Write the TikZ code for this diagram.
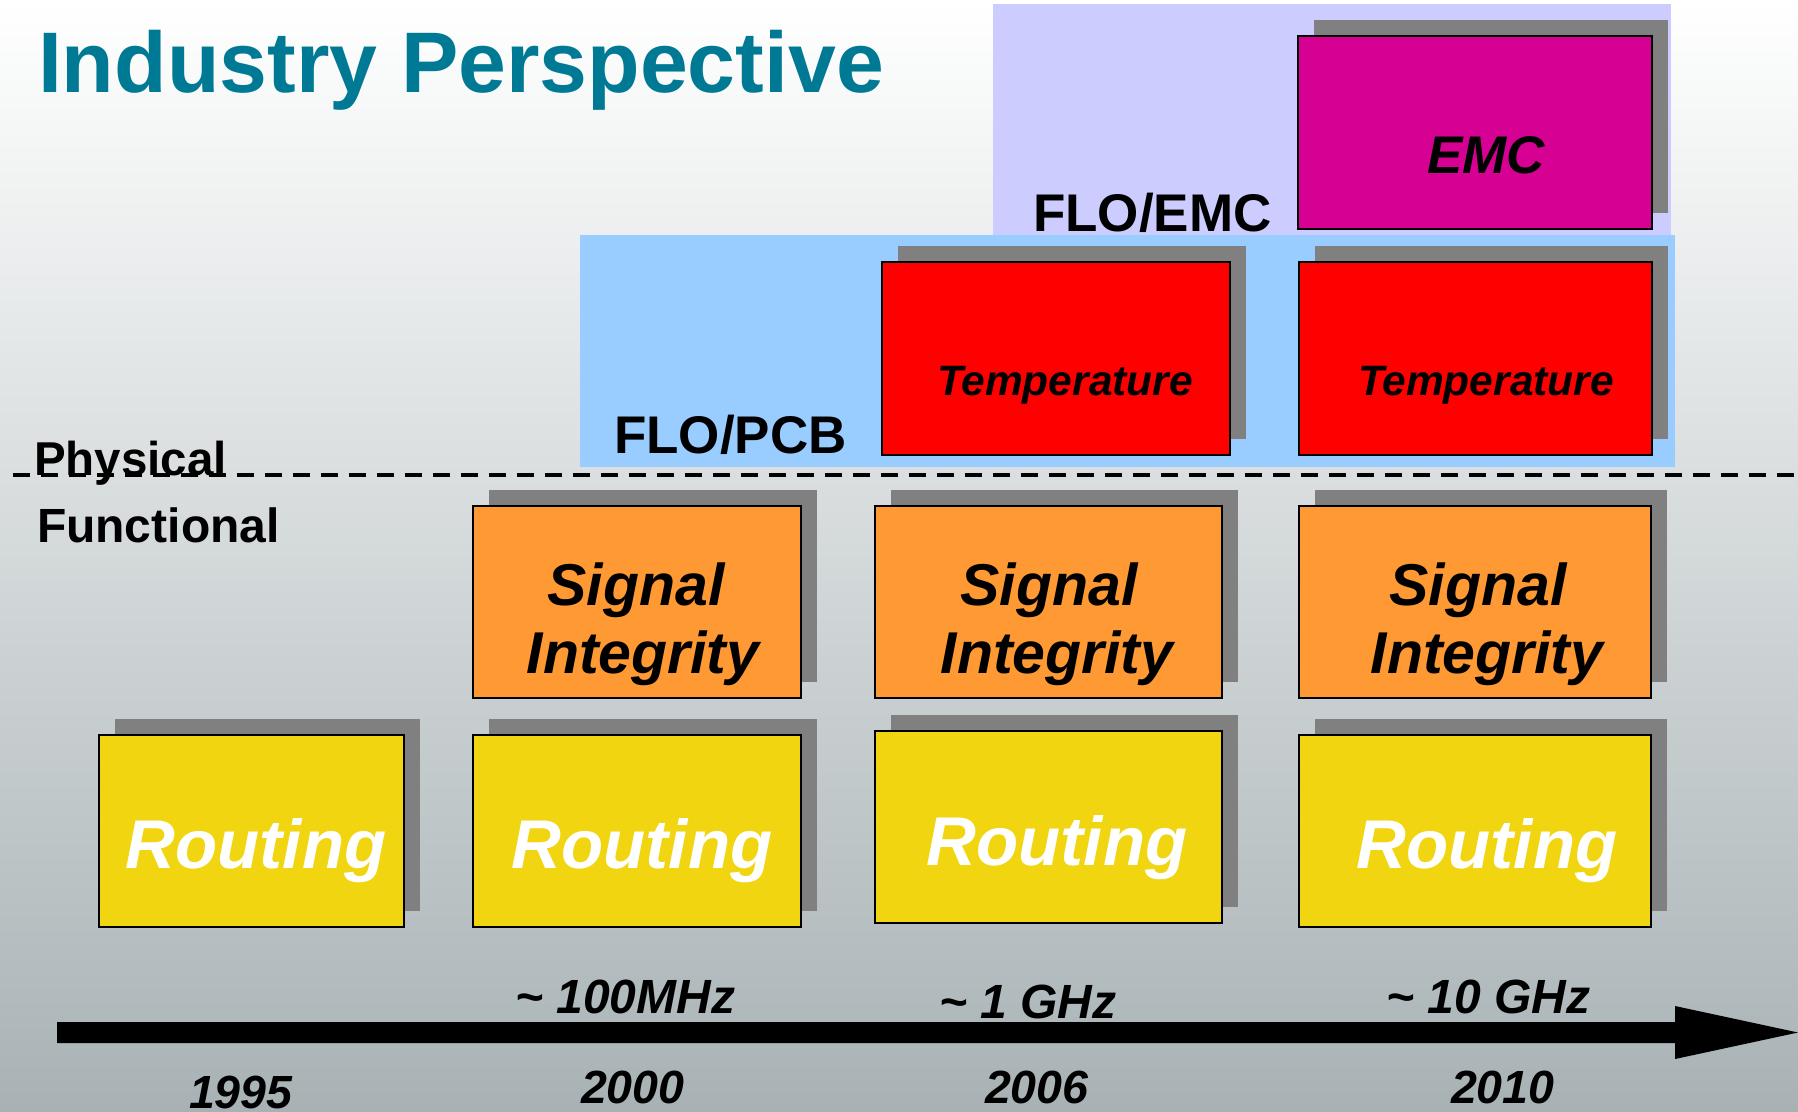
\documentclass[tikz,border=0pt]{standalone}
\usepackage{fontspec}
\setmainfont{Liberation Sans}
\usetikzlibrary{shadows}
\definecolor{tealtitle}{RGB}{0,122,148}
\definecolor{ryellow}{RGB}{240,213,16}
\definecolor{siorange}{RGB}{255,153,51}
\definecolor{tred}{RGB}{255,0,0}
\definecolor{emcmag}{RGB}{214,0,147}
\definecolor{lav}{RGB}{204,204,255}
\definecolor{lblue}{RGB}{153,204,255}
\definecolor{shgray}{RGB}{128,128,128}
\definecolor{bgbot}{RGB}{168,178,181}
\newcommand\myfs[1]{\fontsize{#1}{#1}\selectfont}
\begin{document}
\begin{tikzpicture}[x=1pt,y=-1pt,
  box/.style={draw=black,line width=2.5pt,inner sep=0pt,outer sep=0pt,
    general shadow={shadow xshift=16pt,shadow yshift=16pt,fill=shgray,draw=none}},
  rbox/.style={box,fill=ryellow,minimum height=192pt},
  sbox/.style={box,fill=siorange,minimum height=192pt},
  tbox/.style={box,fill=tred,minimum height=193pt},
  ebox/.style={box,fill=emcmag,minimum height=193pt},
  txt/.style={inner sep=0pt,outer sep=0pt},
  routetxt/.style={txt,anchor=base,text=white,font=\myfs{69}\bfseries\itshape},
  sitxt/.style={txt,anchor=base,font=\myfs{59}\bfseries\itshape},
  temptxt/.style={txt,anchor=base,font=\myfs{42.5}\bfseries\itshape},
  flotxt/.style={txt,anchor=base west,font=\myfs{53}\bfseries},
  sidetxt/.style={txt,anchor=base west,font=\myfs{47.5}\bfseries},
  timetxt/.style={txt,anchor=base west,font=\myfs{48}\bfseries\itshape},
  yeartxt/.style={txt,anchor=base west,font=\myfs{46.5}\bfseries\itshape},
]
\useasboundingbox (0,0) rectangle (1798,1111);
\shade[top color=white,bottom color=bgbot] (0,0) rectangle (1798,1111);

% title
\node[txt,anchor=base west,text=tealtitle,font=\myfs{86}\bfseries] (title) at (38,92) {Industry Perspective};

% group areas
\fill[lav] (993,4) rectangle (1671,235);
\fill[lblue] (580,235) rectangle (1675,467);

% dashed separator
\coordinate (dl) at (13,475);
\coordinate (dr) at (1798,475);
\draw[dash pattern=on 17pt off 11pt,line width=3.5pt] (dl) -- (dr);

\node[sidetxt] (phys) at (34,475) {Physical};
\node[sidetxt,font=\myfs{48}\bfseries] (func) at (37,542) {Functional};

\node[flotxt] (flopcb) at (614,453) {FLO/PCB};
\node[flotxt] (floemc) at (1033,231) {FLO/EMC};

% routing boxes
\node[rbox,minimum width=305pt] (r1) at (251.5,831) {};
\node[rbox,minimum width=328pt] (r2) at (637,831) {};
\node[rbox,minimum width=347pt] (r3) at (1048.5,827) {};
\node[rbox,minimum width=352pt] (r4) at (1475,831) {};
\node[routetxt] (r1t) at (256,868) {Routing};
\node[routetxt] (r2t) at (642,868) {Routing};
\node[routetxt] (r3t) at (1057,865) {Routing};
\node[routetxt] (r4t) at (1487,868) {Routing};

% signal integrity boxes
\node[sbox,minimum width=328pt] (s2) at (637,602) {};
\node[sbox,minimum width=347pt] (s3) at (1048.5,602) {};
\node[sbox,minimum width=352pt] (s4) at (1475,602) {};
\node[sitxt] (s2a) at (636,605) {Signal};
\node[sitxt] (s2b) at (643,673) {Integrity};
\node[sitxt] (s3a) at (1049,605) {Signal};
\node[sitxt] (s3b) at (1057,673) {Integrity};
\node[sitxt] (s4a) at (1478,605) {Signal};
\node[sitxt] (s4b) at (1487,673) {Integrity};

% temperature boxes
\node[tbox,minimum width=348pt] (t3) at (1056,358.5) {};
\node[tbox,minimum width=353pt] (t4) at (1475.5,358.5) {};
\node[temptxt] (t3t) at (1065,395) {Temperature};
\node[temptxt] (t4t) at (1486,395) {Temperature};

% EMC box
\node[ebox,minimum width=354pt] (e4) at (1475,132.5) {};
\node[txt,anchor=base,font=\myfs{53}\bfseries\itshape] (e4t) at (1486,173) {EMC};

% time axis
\fill[black] (57,1022) -- (1675,1022) -- (1675,1006) -- (1798,1032.5)
  -- (1675,1059) -- (1675,1043) -- (57,1043) -- cycle;

\node[timetxt] (f1) at (515,1013) {\~{} 100MHz};
\node[timetxt] (f2) at (939,1018) {\~{} 1 GHz};
\node[timetxt] (f3) at (1386,1013) {\~{} 10 GHz};

\node[yeartxt] (y1) at (189,1108) {1995};
\node[yeartxt] (y2) at (581,1103) {2000};
\node[yeartxt] (y3) at (985,1103) {2006};
\node[yeartxt] (y4) at (1451,1103) {2010};
\end{tikzpicture}
\end{document}
